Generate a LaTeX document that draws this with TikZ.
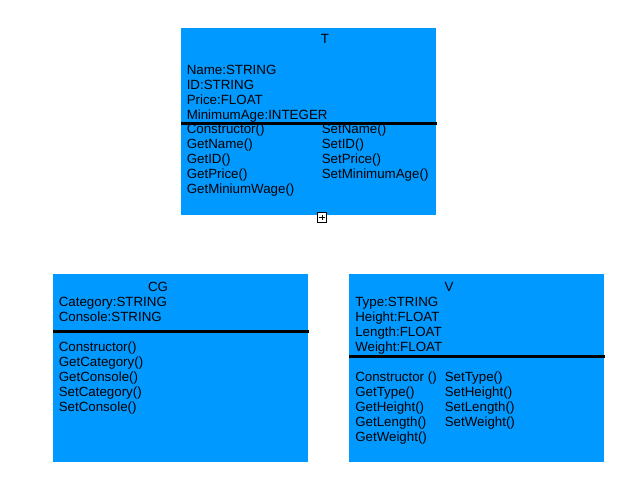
\documentclass[tikz,border=0pt]{standalone}
\usepackage{fontspec}
\setmainfont{Liberation Sans}
\definecolor{bleu}{RGB}{0,153,255}

\begin{document}
\begin{tikzpicture}[x=0.75pt, y=-0.75pt]
\tikzset{classe/.style={fill=bleu, inner sep=0, anchor=north west},
  texte/.style={inner sep=0, anchor=base west, font=\fontsize{10}{12}\selectfont},
  titre/.style={inner sep=0, anchor=base, font=\fontsize{10}{12}\selectfont},
  separe/.style={line width=2.25pt}}
\useasboundingbox (0,0) rectangle (638,489);
% class T
\node[classe, minimum width=191.25pt, minimum height=140.25pt] (T) at (181,28) {};
\draw[separe] (T.west |- 0,123.5) -- (T.east |- 0,123.5);
\node[titre] (Tn) at (325,43.5) {T};
\foreach \txt [count=\i] in {Name:STRING, ID:STRING, Price:FLOAT, MinimumAge:INTEGER}
  \node[texte] (Ta\i) at (186.5,59+15*\i) {\txt};
\foreach \txt [count=\i] in {Constructor(), GetName(), GetID(), GetPrice(), GetMiniumWage()}
  \node[texte] (Tm\i) at (186.5,118+15*\i) {\txt};
\foreach \txt [count=\i] in {SetName(), SetID(), SetPrice(), SetMinimumAge()}
  \node[texte] (Ts\i) at (321.5,118+15*\i) {\txt};
\node[draw, fill=white, line width=0.75pt, minimum size=7pt, inner sep=0] (plus) at (322,217.5) {};
\draw[line width=0.75pt] ([yshift=2.2pt]plus.center) -- ([yshift=-2.2pt]plus.center);
\draw[line width=0.75pt] ([xshift=-2.2pt]plus.center) -- ([xshift=2.2pt]plus.center);
% class CG
\node[classe, minimum width=191.25pt, minimum height=141pt] (CG) at (53,274) {};
\draw[separe] (CG.west |- 0,331.5) -- (CG.east |- 0,331.5);
\node[titre] (CGn) at (158,291) {CG};
\foreach \txt [count=\i] in {Category:STRING, Console:STRING}
  \node[texte] (CGa\i) at (58.5,291+15*\i) {\txt};
\foreach \txt [count=\i] in {Constructor(), GetCategory(), GetConsole(), SetCategory(), SetConsole()}
  \node[texte] (CGm\i) at (58.5,336+15*\i) {\txt};
% class V
\node[classe, minimum width=191.25pt, minimum height=141pt] (V) at (349,274) {};
\draw[separe] (V.west |- 0,356.5) -- (V.east |- 0,356.5);
\node[titre] (Vn) at (449,291) {V};
\foreach \txt [count=\i] in {Type:STRING, Height:FLOAT, Length:FLOAT, Weight:FLOAT}
  \node[texte] (Va\i) at (355,291+15*\i) {\txt};
\foreach \txt [count=\i] in {Constructor (), GetType(), GetHeight(), GetLength(), GetWeight()}
  \node[texte] (Vm\i) at (355,366+15*\i) {\txt};
\foreach \txt [count=\i] in {SetType(), SetHeight(), SetLength(), SetWeight()}
  \node[texte] (Vs\i) at (444.5,366+15*\i) {\txt};
\end{tikzpicture}
\end{document}
